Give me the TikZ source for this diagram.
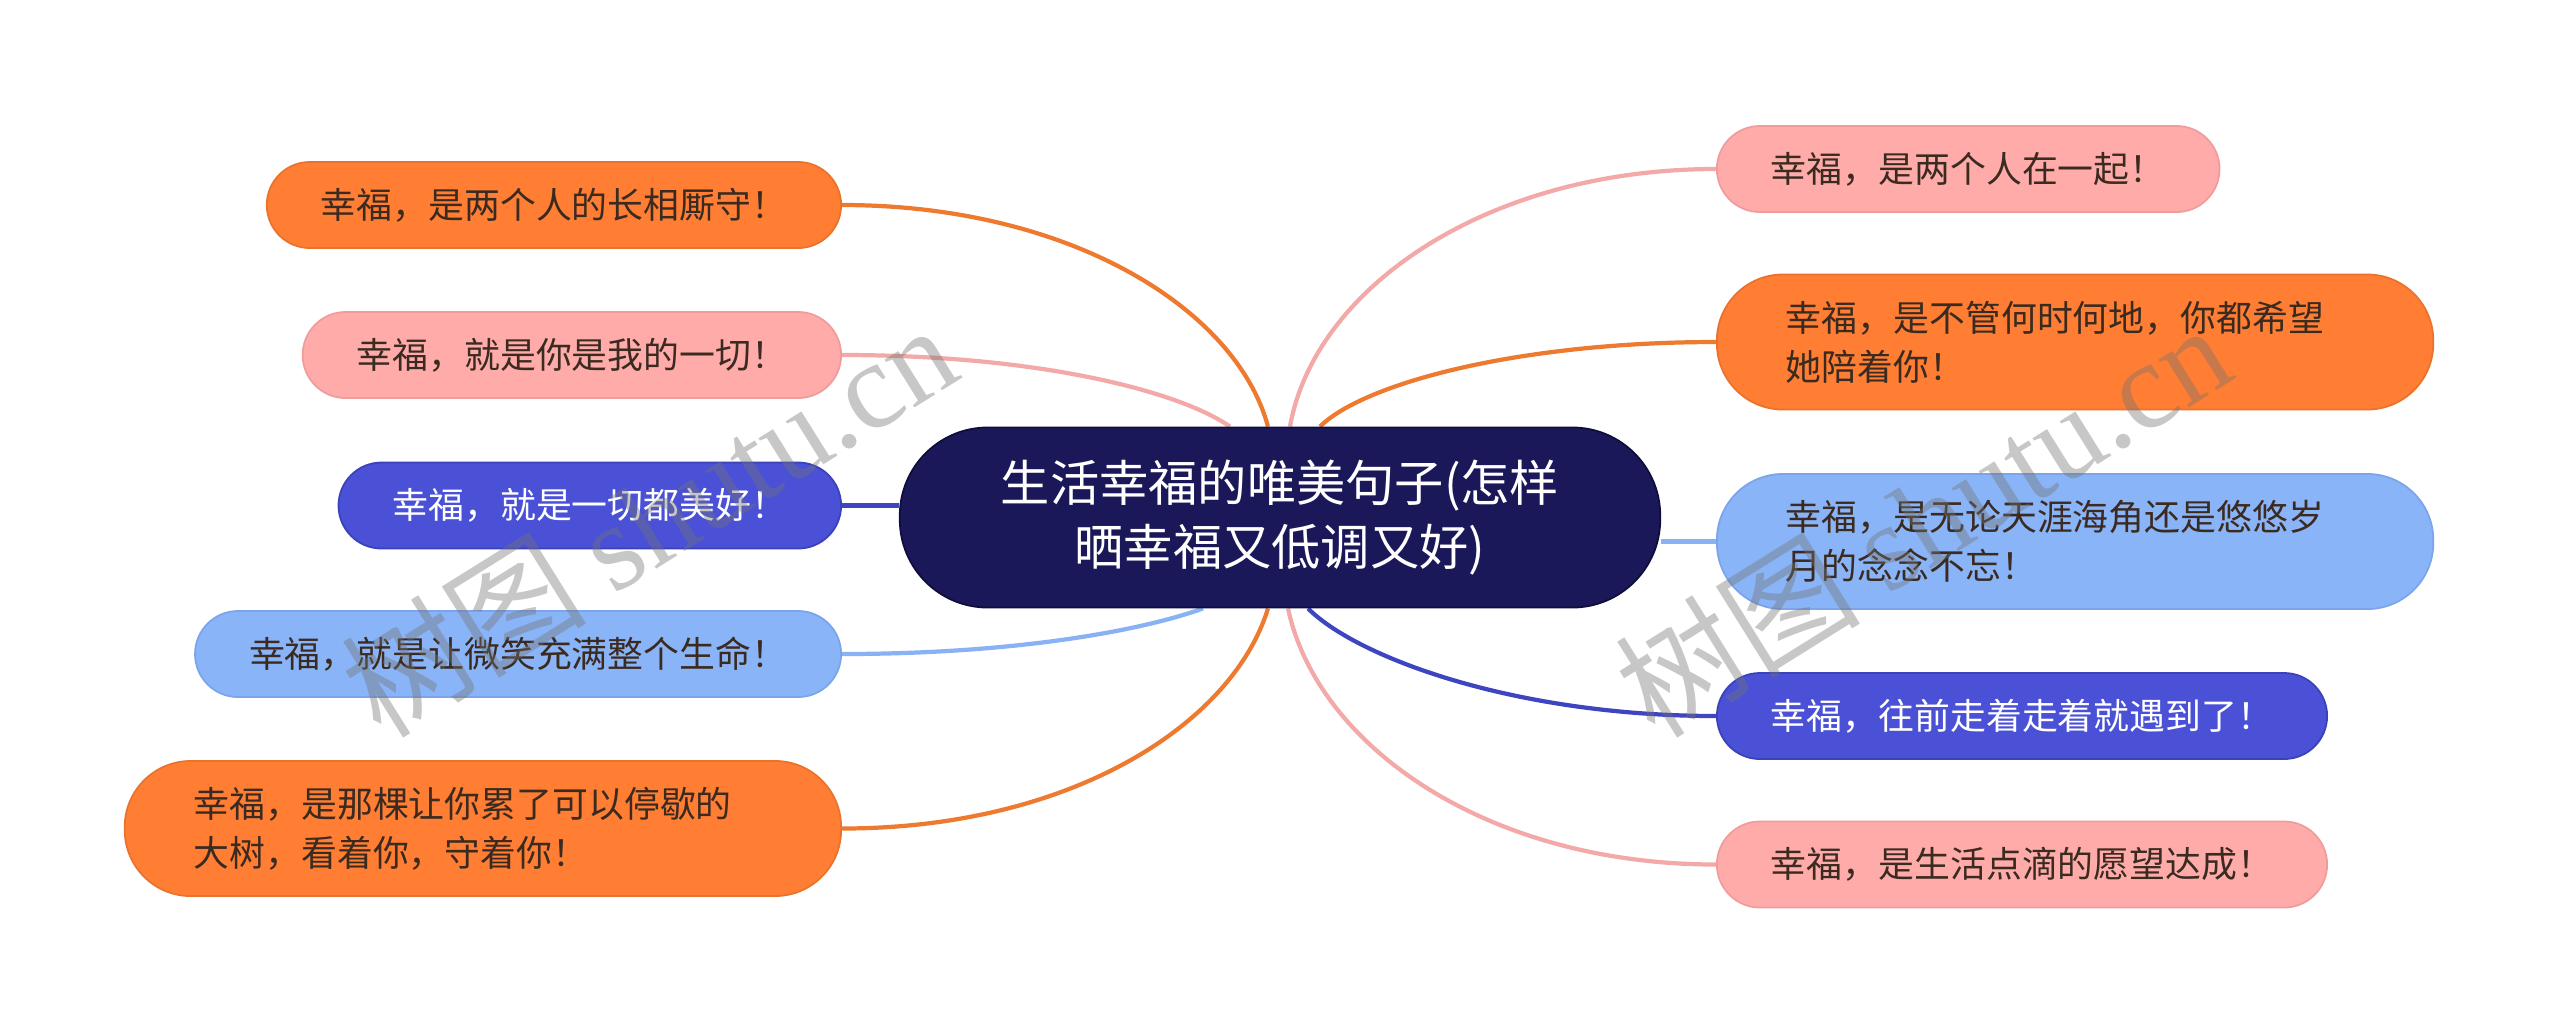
\documentclass[tikz,border=0pt]{standalone}
\usepackage{fontspec}
\setmainfont{Noto Sans CJK SC}
\newfontfamily\wmlatin{Liberation Serif}
\usepackage{xcolor}
\usepackage{tikz}
\usetikzlibrary{backgrounds}

\definecolor{navy}{HTML}{1B185A}
\definecolor{navyline}{HTML}{0F0E3A}
\definecolor{orangefill}{HTML}{FF7E33}
\definecolor{orangeline}{HTML}{E9732D}
\definecolor{orangelink}{HTML}{EE7A30}
\definecolor{pinkfill}{HTML}{FFABAA}
\definecolor{pinkline}{HTML}{F09C9C}
\definecolor{pinklink}{HTML}{F2A9A8}
\definecolor{bluefill}{HTML}{4A51D6}
\definecolor{blueline}{HTML}{3B41B8}
\definecolor{bluelink}{HTML}{3E45C0}
\definecolor{skyfill}{HTML}{8AB4F8}
\definecolor{skyline}{HTML}{7BA4EA}
\definecolor{skylink}{HTML}{88B2F4}
\definecolor{ink}{HTML}{3A2A20}

\begin{document}
\begin{tikzpicture}[x=0.01cm, y=0.01cm]
\tikzstyle{leaf} = [rectangle, rounded corners=0.43cm, minimum height=0.86cm, inner xsep=0.54cm, inner ysep=0pt, line width=0.5pt, text=ink, font=\fontsize{10.2pt}{14pt}\selectfont]
\tikzstyle{leafwide} = [leaf, rounded corners=0.66cm, minimum height=1.35cm, inner xsep=0.69cm, text width=5.78cm, align=left]
\tikzstyle{root} = [rectangle, rounded corners=0.88cm, minimum width=7.6cm, minimum height=1.8cm, fill=navy, draw=navyline, line width=0.5pt, text=white, align=center, font=\fontsize{14pt}{18pt}\selectfont]
\tikzstyle{orangebox} = [fill=orangefill, draw=orangeline]
\tikzstyle{pinkbox} = [fill=pinkfill, draw=pinkline]
\tikzstyle{bluebox} = [fill=bluefill, draw=blueline, text=white]
\tikzstyle{skybox} = [fill=skyfill, draw=skyline]
\tikzstyle{link} = [line width=1.2pt]
\tikzstyle{watermark} = [rotate=32, text=black!55, opacity=0.4, font=\fontsize{35pt}{35pt}\selectfont]

\useasboundingbox (0,0) rectangle (2560,-1035);

% Root
\node (root) [root] at (1280,-517.5) {生活幸福的唯美句子(怎样\\晒幸福又低调又好)};

% Left branches
\node (hl1) [leaf, orangebox, anchor=east] at (842,-205) {幸福，是两个人的长相厮守！};
\node (hl2) [leaf, pinkbox, anchor=east] at (842,-355) {幸福，就是你是我的一切！};
\node (hl3) [leaf, bluebox, anchor=east] at (842,-505.5) {幸福，就是一切都美好！};
\node (hl4) [leaf, skybox, anchor=east] at (842,-654) {幸福，就是让微笑充满整个生命！};
\node (hl5) [leafwide, orangebox, anchor=east] at (842,-828.5) {幸福，是那棵让你累了可以停歇的\\大树，看着你，守着你！};

% Right branches
\node (hr1) [leaf, pinkbox, anchor=west] at (1716,-169) {幸福，是两个人在一起！};
\node (hr2) [leafwide, orangebox, anchor=west] at (1716,-342) {幸福，是不管何时何地，你都希望\\她陪着你！};
\node (hr3) [leafwide, skybox, anchor=west] at (1716,-541.5) {幸福，是无论天涯海角还是悠悠岁\\月的念念不忘！};
\node (hr4) [leaf, bluebox, anchor=west] at (1716,-716) {幸福，往前走着走着就遇到了！};
\node (hr5) [leaf, pinkbox, anchor=west] at (1716,-864.5) {幸福，是生活点滴的愿望达成！};

% Connections
\begin{scope}[on background layer]
\fill [white] (0,0) rectangle (2560,-1035);
\draw [link, draw=orangelink] (hl1.east) to[out=0, in=105, out distance=2.3cm, in distance=1.2cm] ([xshift=-0.12cm]root.north);
\draw [link, draw=pinklink] (hl2.east) to[out=0, in=145, out distance=2.0cm, in distance=0.6cm] ([xshift=-0.50cm]root.north);
\draw [link, draw=bluelink] (hl3.east) -- (hl3.east -| root.west);
\draw [link, draw=skylink] (hl4.east) to[out=0, in=-160, out distance=1.8cm, in distance=0.6cm] ([xshift=-0.77cm]root.south);
\draw [link, draw=orangelink] (hl5.east) to[out=0, in=-107, out distance=2.3cm, in distance=1.2cm] ([xshift=-0.12cm]root.south);
\draw [link, draw=pinklink] (hr1.west) to[out=180, in=80, out distance=2.3cm, in distance=1.4cm] ([xshift=0.10cm]root.north);
\draw [link, draw=orangelink] (hr2.west) to[out=180, in=45, out distance=2.0cm, in distance=0.6cm] ([xshift=0.40cm]root.north);
\draw [link, draw=skylink] (hr3.west) -- (hr3.west -| root.east);
\draw [link, draw=bluelink] (hr4.west) to[out=180, in=-45, out distance=2.0cm, in distance=0.7cm] ([xshift=0.28cm]root.south);
\draw [link, draw=pinklink] (hr5.west) to[out=180, in=-78, out distance=2.3cm, in distance=1.4cm] ([xshift=0.08cm]root.south);
\end{scope}

% Watermarks
\node (wm1) [watermark] at (648,-519) {树图 {\wmlatin shutu.cn}};
\node (wm2) [watermark] at (1922,-519) {树图 {\wmlatin shutu.cn}};

\end{tikzpicture}
\end{document}
